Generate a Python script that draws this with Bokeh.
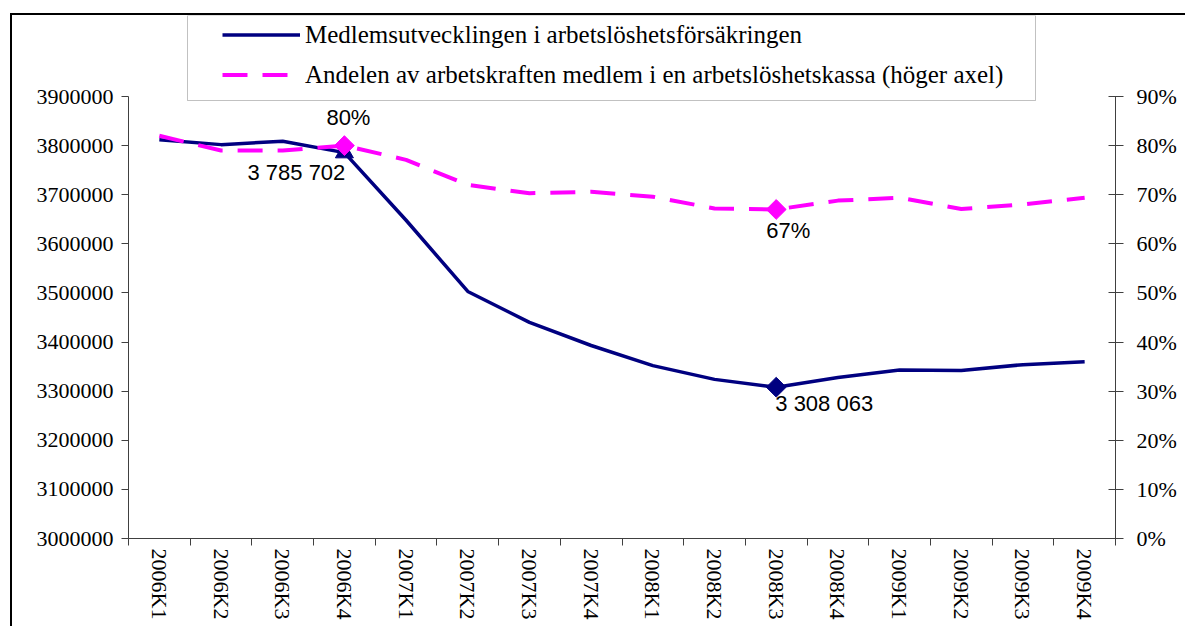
from bokeh.plotting import figure
from bokeh.models import (Range1d, LinearAxis, FixedTicker, CustomJSTickFormatter,
                          PrintfTickFormatter, NumeralTickFormatter, Legend, LegendItem,
                          BoxAnnotation, ColumnDataSource)
from bokeh.core.properties import value
from bokeh.embed import file_html
from bokeh.resources import INLINE

quarters = ["2006K1", "2006K2", "2006K3", "2006K4", "2007K1", "2007K2", "2007K3", "2007K4",
            "2008K1", "2008K2", "2008K3", "2008K4", "2009K1", "2009K2", "2009K3", "2009K4"]
members = [3812000, 3802000, 3809000, 3785702, 3648000, 3503000, 3440000, 3393000,
           3352000, 3324000, 3308063, 3328000, 3343000, 3342000, 3354000, 3360000]
share = [82.0, 79.0, 79.0, 80.0, 77.1, 72.0, 70.3, 70.6,
         69.6, 67.2, 67.0, 68.8, 69.4, 67.1, 68.0, 69.4]
left_ticks = list(range(3000000, 3900001, 100000))
right_ticks = list(range(0, 91, 10))
highlight = [3, 10]
series_names = ["Medlemsutvecklingen i arbetslöshetsförsäkringen",
                "Andelen av arbetskraften medlem i en arbetslöshetskassa (höger axel)"]

NAVY = "#000080"
MAGENTA = "#FF00FF"
AXIS = "#404040"
SERIF = "Liberation Serif"
SANS = "Liberation Sans"

# layout (pixels)
FRAME_W, FRAME_H = 987, 523      # frame reaches up to the chart's top border
AXIS_H = 442                     # height of the 3000000..3900000 axis span
head = FRAME_H / AXIS_H          # range extension so the legend sits inside the frame

xs = [i + 0.5 for i in range(len(quarters))]
y0, y1 = left_ticks[0], left_ticks[-1]
r0, r1_ = right_ticks[0], right_ticks[-1]

p = figure(frame_width=FRAME_W, frame_height=FRAME_H, output_backend="svg", toolbar_location=None,
           x_range=Range1d(0, len(quarters)),
           y_range=Range1d(y0, y0 + (y1 - y0) * head),
           min_border_left=116, min_border_right=70, min_border_top=0, min_border_bottom=88,
           background_fill_color="white", border_fill_color="white")
p.styles = {"margin-left": "10px", "margin-top": "13px",
            "border-top": "2px solid #000000", "border-left": "2px solid #000000"}
p.outline_line_color = None
p.grid.visible = False
p.extra_y_ranges = {"pct": Range1d(r0, r0 + (r1_ - r0) * head)}

# legend box
p.add_layout(BoxAnnotation(left=173, right=1021, top=-2, bottom=83,
                           left_units="canvas", right_units="canvas",
                           top_units="canvas", bottom_units="canvas",
                           fill_color="white", fill_alpha=1, line_color="#333333", line_width=1))

r1 = p.line(xs, members, line_color=NAVY, line_width=3.5)
r2 = p.line(xs, share, y_range_name="pct", line_color=MAGENTA, line_width=4, line_dash="25 15")

p.scatter([xs[highlight[0]]], [members[highlight[0]]], marker="triangle", size=18, color=NAVY)
p.scatter([xs[highlight[1]]], [members[highlight[1]]], marker="square", angle=0.785, size=14, color=NAVY)
p.scatter([xs[i] for i in highlight], [share[i] for i in highlight], y_range_name="pct",
          marker="square", angle=0.785, size=14, color=MAGENTA)

fmt_num = lambda v: f"{v:,}".replace(",", " ")
src_m = ColumnDataSource(dict(x=[xs[i] for i in highlight], y=[members[i] for i in highlight],
                              t=[fmt_num(members[i]) for i in highlight],
                              dx=[-48, 48], dy=[20, 16]))
src_s = ColumnDataSource(dict(x=[xs[i] for i in highlight], y=[share[i] for i in highlight],
                              t=[f"{share[i]:.0f}%" for i in highlight],
                              dx=[4, 12], dy=[-28, 21]))
for src, rng in ((src_m, "default"), (src_s, "pct")):
    p.text(x="x", y="y", text="t", x_offset="dx", y_offset="dy", source=src, y_range_name=rng,
           text_align="center", text_baseline="middle", text_color="black",
           text_font=value(SANS), text_font_size="22px")

# bottom axis
xa = p.xaxis[0]
xa.ticker = FixedTicker(ticks=xs, minor_ticks=list(range(len(quarters) + 1)))
xa.formatter = CustomJSTickFormatter(args=dict(labels=quarters),
                                     code="const i = Math.floor(tick); return labels[i] || '';")
xa.major_label_orientation = "vertical"
xa.major_tick_line_color = None
xa.major_tick_out = 0
xa.major_tick_in = 0
xa.minor_tick_line_color = AXIS
xa.minor_tick_out = 7
xa.minor_tick_in = 0
xa.major_label_standoff = 3
xa.axis_line_color = AXIS

# left axis
ya = p.yaxis[0]
ya.ticker = FixedTicker(ticks=left_ticks)
ya.formatter = NumeralTickFormatter(format="0")
ya.bounds = (y0, y1)
ya.major_tick_out = 7
ya.major_tick_in = 0
ya.minor_tick_line_color = None
ya.major_label_standoff = 8
ya.axis_line_color = AXIS
ya.major_tick_line_color = AXIS

# right axis
ra = LinearAxis(y_range_name="pct", ticker=FixedTicker(ticks=right_ticks),
                formatter=PrintfTickFormatter(format="%d%%"), bounds=(r0, r1_))
ra.major_tick_out = 8
ra.major_tick_in = 7
ra.minor_tick_line_color = None
ra.major_label_standoff = 13
ra.axis_line_color = AXIS
ra.major_tick_line_color = AXIS
p.add_layout(ra, "right")

for ax in (xa, ya, ra):
    ax.major_label_text_font = SERIF
    ax.major_label_text_font_size = "22px"
    ax.major_label_text_color = "black"

legend = Legend(items=[LegendItem(label=series_names[0], renderers=[r1]),
                       LegendItem(label=series_names[1], renderers=[r2])],
                location=(94, 449), orientation="vertical",
                border_line_color=None, background_fill_alpha=0,
                padding=0, margin=0, spacing=11,
                glyph_width=78, glyph_height=29, label_height=29, label_standoff=5,
                label_text_font=SERIF, label_text_font_size="25px", label_text_color="black")
p.add_layout(legend)

open("out.html", "w").write(file_html(p, INLINE))
